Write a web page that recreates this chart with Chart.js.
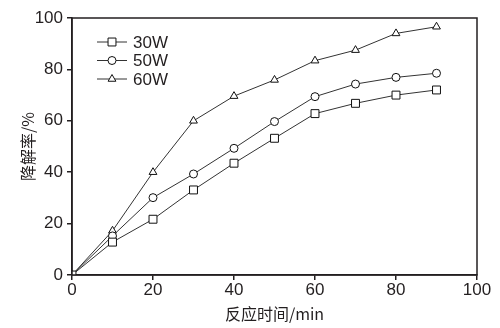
<!DOCTYPE html>
<html>
<head>
    <meta charset="UTF-8">
    <title>降解率</title>
    <script src="https://cdn.jsdelivr.net/npm/chart.js@4.4.0/dist/chart.umd.min.js"></script>
    <style>
      html, body { margin: 0; padding: 0; background: #fff; }
      .chart-container { position: relative; width: 500px; height: 328px; }
    </style>
</head>
<body>
    <div class="chart-container">
        <canvas id="myChart"></canvas>
    </div>

  <script>
      // data
      const times = [0, 10, 20, 30, 40, 50, 60, 70, 80, 90];
      const w30 = [0, 12.8, 21.7, 33.1, 43.5, 53.2, 62.8, 66.8, 70.0, 72.0];
      const w50 = [0, 15.2, 30.1, 39.3, 49.3, 59.7, 69.4, 74.3, 76.9, 78.5];
      const w60 = [0, 17.2, 40.0, 60.0, 69.6, 75.9, 83.4, 87.5, 94.0, 96.6];
      const seriesNames = ['30W', '50W', '60W'];
      const xTicks = [0, 20, 40, 60, 80, 100];
      const yTicks = [0, 20, 40, 60, 80, 100];

      const FONT = 'Liberation Sans, Arial, sans-serif';
      const INK = '#231f20';

      function series(label, ys, style, radius) {
          return {
              label: label,
              data: times.map((t, i) => ({ x: t, y: ys[i] })),
              borderColor: '#333',
              borderWidth: 1,
              pointStyle: style,
              pointRadius: radius,
              pointBackgroundColor: '#fff',
              pointBorderColor: '#111',
              pointBorderWidth: 1,
              tension: 0
          };
      }

      // frame + legend drawn in the plot corner
      const framePlugin = {
          id: 'frame',
          afterDraw(chart) {
              const ctx = chart.ctx;
              const a = chart.chartArea;
              ctx.save();
              ctx.strokeStyle = INK;
              ctx.lineWidth = 1.5;
              ctx.strokeRect(a.left, a.top, a.right - a.left, a.bottom - a.top);

              ctx.font = '17px ' + FONT;
              ctx.textBaseline = 'middle';
              ctx.fillStyle = INK;
              chart.data.datasets.forEach((ds, i) => {
                  const y = 42 + i * 18.5;
                  ctx.strokeStyle = '#333';
                  ctx.lineWidth = 1;
                  ctx.beginPath();
                  ctx.moveTo(97, y);
                  ctx.lineTo(127, y);
                  ctx.stroke();
                  ctx.fillStyle = '#fff';
                  ctx.strokeStyle = '#111';
                  Chart.helpers.drawPoint(ctx, {
                      pointStyle: ds.pointStyle, radius: ds.pointRadius,
                      rotation: 0, borderWidth: 1
                  }, 112, y);
                  ctx.fillStyle = INK;
                  ctx.fillText(ds.label, 133, y + 1);
              });
              ctx.restore();
          }
      };

      const ctx = document.getElementById('myChart').getContext('2d');
      const myChart = new Chart(ctx, {
          type: 'line',
          data: {
              datasets: [
                  series(seriesNames[0], w30, 'rect', 5.6),
                  series(seriesNames[1], w50, 'circle', 4),
                  series(seriesNames[2], w60, 'triangle', 4.5)
              ]
          },
          options: {
              responsive: true,
              maintainAspectRatio: false,
              animation: false,
              layout: { padding: { top: 18, right: 23, left: 0, bottom: 0 } },
              plugins: {
                  legend: { display: false },
                  tooltip: { enabled: false }
              },
              scales: {
                  x: {
                      type: 'linear',
                      min: 0, max: 100,
                      afterBuildTicks: s => { s.ticks = xTicks.map(v => ({ value: v })); },
                      afterFit: s => { s.height = 53; },
                      grid: { drawOnChartArea: false, tickLength: 5, color: INK, lineWidth: 1.5 },
                      border: { color: INK, width: 1.5 },
                      ticks: { color: INK, font: { family: FONT, size: 17 }, padding: 0, maxRotation: 0 },
                      title: { display: true, text: '反应时间/min', color: INK,
                               font: { family: 'Noto Sans CJK SC', size: 16 }, padding: { top: 0, bottom: 4 } }
                  },
                  y: {
                      min: 0, max: 100,
                      afterBuildTicks: s => { s.ticks = yTicks.map(v => ({ value: v })); },
                      afterFit: s => { s.width = 72; },
                      grid: { drawOnChartArea: false, tickLength: 5, color: INK, lineWidth: 1.5 },
                      border: { color: INK, width: 1.5 },
                      ticks: { color: INK, font: { family: FONT, size: 17 }, padding: 4 },
                      title: { display: true, text: '降解率/%', color: INK,
                               font: { family: 'Noto Sans CJK SC', size: 16 }, padding: { top: 18, bottom: 0 } }
                  }
              }
          },
          plugins: [framePlugin]
      });
  </script>

</body>
</html>
